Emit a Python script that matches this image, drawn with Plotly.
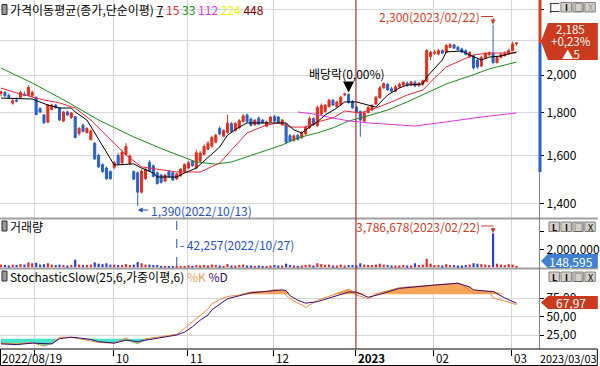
import math
import plotly.graph_objects as go

# ---------------- data ----------------
candle_idx = list(range(133))
opens = [1900,1905,1890,1850,1865,1880,1895,1890,1890,1880,
         1822,1790,1755,1818,1840,1825,1760,1805,1778,1782,
         1700,1740,1705,1672,1655,1600,1560,1545,1530,1548,
         1600,1568,1605,1565,1530,1525,1445,1500,1570,1555,
         1525,1515,1490,1530,1525,1500,1512,1530,1545,1575,
         1545,1575,1605,1628,1642,1660,1725,1688,1705,1748,
         1715,1728,1758,1790,1770,1742,1775,1765,1735,1758,
         1782,1780,1742,1745,1690,1668,1692,1680,1698,1728,
         1772,1738,1795,1808,1832,1865,1832,1842,1892,1895,
         1858,1830,1808,1760,1802,1815,1845,1878,1930,1948,
         1925,1912,1935,1945,1955,1945,1960,1942,1950,1965,
         2105,2125,2120,2140,2130,2160,2175,2160,2150,2140,
         2105,2110,2085,2050,2095,2115,2125,2070,2100,2110,
         2120,2140,2180]
highs = [1915,1912,1900,1870,1880,1915,1910,1945,1915,1885,
         1830,1795,1845,1848,1845,1830,1810,1812,1805,1785,
         1730,1748,1730,1720,1660,1608,1565,1552,1535,1575,
         1610,1622,1655,1605,1535,1530,1540,1550,1580,1560,
         1530,1520,1520,1535,1530,1525,1545,1565,1575,1580,
         1625,1620,1650,1665,1690,1700,1735,1720,1792,1755,
         1755,1770,1795,1798,1778,1768,1782,1770,1762,1785,
         1790,1785,1770,1750,1698,1695,1698,1712,1738,1782,
         1778,1838,1848,1845,1872,1872,1862,1888,1905,1900,
         1865,1838,1812,1808,1835,1845,1888,1940,1960,1955,
         1935,1945,1958,1965,1965,1968,1970,1960,1975,2150,
         2140,2145,2150,2148,2180,2185,2180,2168,2158,2148,
         2135,2118,2095,2110,2130,2135,2300,2110,2125,2135,
         2150,2195,2190]
lows = [1885,1880,1872,1842,1855,1875,1885,1885,1880,1788,
        1800,1745,1750,1812,1822,1760,1755,1785,1770,1678,
        1690,1705,1700,1668,1580,1545,1525,1495,1495,1540,
        1558,1562,1600,1558,1495,1390,1440,1495,1528,1505,
        1475,1480,1485,1505,1490,1495,1508,1525,1540,1550,
        1540,1570,1600,1622,1635,1655,1692,1685,1700,1705,
        1710,1722,1752,1752,1735,1738,1740,1748,1730,1755,
        1755,1748,1738,1650,1660,1662,1668,1675,1692,1722,
        1738,1732,1790,1802,1828,1835,1828,1838,1885,1848,
        1822,1800,1685,1752,1798,1810,1842,1872,1925,1915,
        1905,1908,1930,1940,1935,1940,1935,1935,1940,1960,
        2085,2115,2112,2120,2125,2155,2150,2140,2125,2112,
        2095,2030,2035,2045,2090,2110,2060,2065,2095,2105,
        2115,2135,2170]
closes = [1910,1888,1880,1862,1860,1905,1890,1932,1905,1792,
          1805,1752,1840,1840,1826,1765,1805,1790,1800,1682,
          1725,1710,1725,1712,1585,1550,1530,1500,1500,1568,
          1562,1615,1640,1598,1498,1445,1532,1540,1532,1510,
          1480,1485,1515,1508,1495,1520,1540,1560,1568,1555,
          1612,1610,1640,1655,1682,1692,1698,1715,1750,1710,
          1748,1762,1785,1758,1738,1765,1745,1752,1755,1780,
          1760,1752,1765,1660,1665,1690,1672,1705,1730,1772,
          1742,1828,1838,1840,1865,1840,1855,1880,1897,1852,
          1826,1805,1765,1800,1828,1838,1880,1930,1952,1920,
          1912,1935,1950,1960,1945,1962,1940,1955,1968,2140,
          2130,2130,2140,2125,2170,2175,2155,2145,2130,2118,
          2130,2040,2045,2100,2125,2128,2070,2100,2118,2125,
          2140,2180,2185]
volumes = [300000,250000,200000,300000,250000,350000,300000,550000,450000,500000,
           300000,350000,450000,300000,250000,300000,250000,200000,250000,850000,
           300000,250000,250000,300000,550000,400000,350000,450000,300000,300000,
           250000,250000,350000,250000,300000,600000,450000,300000,300000,250000,
           250000,150000,150000,120000,100000,42257,120000,150000,200000,150000,
           250000,200000,250000,200000,300000,250000,200000,150000,350000,200000,
           200000,250000,300000,200000,200000,150000,200000,150000,150000,200000,
           250000,200000,200000,400000,250000,200000,150000,200000,250000,300000,
           200000,450000,350000,250000,300000,200000,200000,300000,200000,250000,
           250000,200000,450000,300000,250000,250000,300000,400000,300000,250000,
           200000,200000,200000,250000,200000,200000,450000,250000,300000,950000,
           400000,250000,250000,200000,350000,250000,250000,200000,200000,250000,
           300000,450000,400000,350000,300000,250000,3786678,400000,300000,250000,
           350000,300000,148595]

ma7_idx = [0,8,12,15,18,19,22,24,27,29,34,36,39,40,45,47,50,53,56,58,61,63,69,73,75,77,79,81,83,86,
           88,91,94,96,99,102,104,108,109,113,114,118,120,123,125,128,132]
ma7 = [1876,1871,1840,1825,1825,1805,1765,1703,1611,1558,1563,1545,1524,1507,1507,1524,1545,1589,1638,1693,
       1731,1751,1751,1751,1717,1703,1731,1756,1790,1825,1856,1856,1840,1830,1892,1929,1945,1951,1989,2085,
       2132,2138,2114,2085,2102,2108,2132]
ma15_idx = [0,4,8,11,15,19,23,28,32,36,41,45,51,56,59,63,68,71,74,78,81,85,88,92,96,100,104,108,111,114,
            118,121,125,132]
ma15 = [1929,1903,1882,1866,1851,1825,1765,1670,1602,1550,1537,1528,1528,1567,1624,1703,1741,1751,1731,1731,
        1756,1775,1810,1800,1825,1856,1892,1918,1983,2045,2085,2114,2126,2126]
ma33_idx = [0,8,17,25,34,42,50,55,59,63,68,72,76,81,85,89,94,99,104,109,114,120,125,132]
ma33 = [2039,1956,1856,1765,1684,1624,1571,1562,1571,1593,1624,1647,1680,1703,1727,1760,1786,1815,1856,1903,
        1951,1994,2034,2073]
ma112_idx = [76,80,85,89,94,106,114,123,132]
ma112 = [1805,1795,1775,1761,1751,1736,1756,1780,1800]

stoch_idx = [0,4,8,11,13,15,18,20,23,25,29,32,35,37,40,42,45,47,49,51,53,54,56,58,61,64,68,70,72,73,
             74,76,77,78,81,85,89,91,94,97,102,110,117,120,121,125,126,129,132]
stoch_k = [14,13,15,10,14,22,22,20,18,15,14,21,13,20,22,24,26,34,43,52,60,67,73,77,79,83,84,86,85,79,
           74,68,66,62,72,79,87,79,74,82,89,92,95,86,81,84,75,71,66]
stoch_d = [13,12,14,13,13,20,22,21,19,16,14,18,16,18,21,23,25,29,36,45,52,59,66,74,78,82,84,85,86,85,
           78,72,70,68,70,77,83,83,76,80,88,92,95,90,86,84,84,75,68]

month_tick_idx = [9, 29, 48, 70, 91, 111, 131]
month_labels = ["", "10", "11", "12", "2023", "02", "03"]
first_date_label = "2022/08/19"
last_date_label = "2023/03/03"
price_ticks = [1400, 1600, 1800, 2000, 2200, 2400]
price_tick_text = ["1,400", "1,600", "1,800", "2,000", "", ""]
last_price_text = ["2,185", "+0,23%", "▲5"]
last_volume_text = "148,595"
last_stoch_text = "67,97"
low_idx, low_text = 35, "1,390(2022/10/13)"
high_idx, high_text = 126, "2,300(2023/02/22)"
minvol_idx, minvol_text = 45, "- 42,257(2022/10/27)"
maxvol_idx, maxvol_text = 126, "3,786,678(2023/02/22)"
exdiv_idx, exdiv_text = 89, "배당락(0,00%)"
year_line_idx = 90.9

# ---------------- geometry / style ----------------
FONT = "Noto Sans CJK KR"
PW, PH = 541.0, 349.0
X0, X1 = -0.255, 137.755
LOG_TOP, LOG_BOT = 3.39139, 3.12874
P_TOP, P_BOT = 0.0, 218.0
V_TOP, V_BOT = 219.0, 268.0
V_MIN, V_MAX = -78000, 5379000
S_TOP, S_BOT = 269.0, 349.0
S_MIN, S_MAX = 6.08, 114.19

C_UP, C_DN = "#E0301E", "#2A62C8"
V_UP, V_DN = "#E8262A", "#2B3FD6"
GRID = "#D6D6D6"
TXT_BLUE, TXT_RED = "#2850C8", "#D23C28"


def fx(px):
    return px / PW


def fy(py):
    return 1 - py / PH


def idx_px(i):
    return (i - X0) / (X1 - X0) * PW


def price_py(p):
    return P_TOP + (LOG_TOP - math.log10(p)) / (LOG_TOP - LOG_BOT) * (P_BOT - P_TOP)


def vol_py(v):
    return V_BOT - (v - V_MIN) / (V_MAX - V_MIN) * (V_BOT - V_TOP)


fig = go.Figure()

fig.add_trace(go.Candlestick(
    x=candle_idx, open=opens, high=highs, low=lows, close=closes,
    increasing=dict(line=dict(color=C_UP, width=1), fillcolor=C_UP),
    decreasing=dict(line=dict(color=C_DN, width=1), fillcolor=C_DN),
    whiskerwidth=0, xaxis="x", yaxis="y", hoverinfo="skip"))

for xs, ys, col in [(ma33_idx, ma33, "#1E8C1E"), (ma112_idx, ma112, "#E632E6"),
                    (ma15_idx, ma15, "#E8283C"), (ma7_idx, ma7, "#000000")]:
    fig.add_trace(go.Scatter(x=xs, y=ys, mode="lines", line=dict(color=col, width=1),
                             xaxis="x", yaxis="y", hoverinfo="skip"))

vcolors = [V_UP if c > o else V_DN for o, c in zip(opens, closes)]
fig.add_trace(go.Bar(x=candle_idx, y=volumes, marker=dict(color=vcolors, line=dict(width=0)),
                     width=0.55, xaxis="x2", yaxis="y2", hoverinfo="skip"))

hi_fill = [max(k, d, 80) for k, d in zip(stoch_k, stoch_d)]
lo_fill = [min(k, d, 20) for k, d in zip(stoch_k, stoch_d)]
n = len(stoch_idx)
fig.add_trace(go.Scatter(x=stoch_idx, y=[80] * n, mode="lines", line=dict(width=0),
                         xaxis="x3", yaxis="y3", hoverinfo="skip"))
fig.add_trace(go.Scatter(x=stoch_idx, y=hi_fill, mode="lines", line=dict(width=0), fill="tonexty",
                         fillcolor="#F5A55A", xaxis="x3", yaxis="y3", hoverinfo="skip"))
fig.add_trace(go.Scatter(x=stoch_idx, y=[20] * n, mode="lines", line=dict(width=0),
                         xaxis="x3", yaxis="y3", hoverinfo="skip"))
fig.add_trace(go.Scatter(x=stoch_idx, y=lo_fill, mode="lines", line=dict(width=0), fill="tonexty",
                         fillcolor="#48E6C8", xaxis="x3", yaxis="y3", hoverinfo="skip"))
fig.add_trace(go.Scatter(x=stoch_idx, y=stoch_k, mode="lines", line=dict(color="#F08A3C", width=1),
                         xaxis="x3", yaxis="y3", hoverinfo="skip"))
fig.add_trace(go.Scatter(x=stoch_idx, y=stoch_d, mode="lines", line=dict(color="#3C0A6E", width=1),
                         xaxis="x3", yaxis="y3", hoverinfo="skip"))

grid_vals = [i - 0.3 for i in month_tick_idx]
xcommon = dict(range=[X0, X1], showgrid=True, gridcolor=GRID, gridwidth=1, tickvals=grid_vals,
               zeroline=False, showline=False, fixedrange=True, showticklabels=False)

shapes = []
annotations = []


def add_text(text, xpx, ypx, color="black", size=12, xanchor="left", yanchor="middle"):
    annotations.append(dict(text=text, x=fx(xpx), y=fy(ypx), xref="paper", yref="paper",
                            xanchor=xanchor, yanchor=yanchor, showarrow=False,
                            font=dict(family=FONT, size=size, color=color), borderpad=0))


def add_arrow(tip_x, tip_y, ax, ay, color, width=1, head=2, size=1.0):
    annotations.append(dict(text="", x=fx(tip_x), y=fy(tip_y), xref="paper", yref="paper",
                            ax=ax, ay=ay, axref="pixel", ayref="pixel", showarrow=True,
                            arrowhead=head, arrowsize=size, arrowwidth=width, arrowcolor=color,
                            standoff=0))


def line_px(x0, y0, x1, y1, color, width=1, dash="solid"):
    shapes.append(dict(type="line", xref="paper", yref="paper", x0=fx(x0), y0=fy(y0), x1=fx(x1), y1=fy(y1),
                       line=dict(color=color, width=width, dash=dash), layer="above"))


def rect_px(x0, y0, x1, y1, fill, line=None, lw=1):
    shapes.append(dict(type="rect", xref="paper", yref="paper", x0=fx(x0), y0=fy(y0), x1=fx(x1), y1=fy(y1),
                       fillcolor=fill, line=dict(color=line or fill, width=lw if line else 0), layer="above"))


def tag_px(ytop, ybot, fill):
    ym = (ytop + ybot) / 2
    pts = [(543, ym), (550, ytop), (600, ytop), (600, ybot), (550, ybot)]
    path = "M " + " L ".join(f"{fx(a):.5f},{fy(b):.5f}" for a, b in pts) + " Z"
    shapes.append(dict(type="path", xref="paper", yref="paper", path=path, fillcolor=fill,
                       line=dict(width=0), layer="above"))


# panel separators
line_px(0, 218.5, 600, 218.5, "#A0A0A0", 2)
line_px(0, 268.5, 600, 268.5, "#A0A0A0", 2)
# right axis line and range bars
line_px(541.5, 0, 541.5, 349, "#808080", 1)
rect_px(540.5, 0, 543.5, 43, "#D2401E")
rect_px(540.5, 43, 543.5, 172, C_DN)
# bottom axis band
rect_px(0.5, 349, 599.5, 365.5, "rgba(0,0,0,0)", "black", 1)
# year boundary line
shapes.append(dict(type="line", xref="x", yref="paper", x0=year_line_idx, x1=year_line_idx, y0=0, y1=1,
                   line=dict(color="#B4141E", width=1), layer="above"))

# tags on right axis
tag_px(23, 60, "#CC3A1E")
tag_px(254, 268, "#3F7FD6")
tag_px(296, 309, "#CC3A1E")
for t, yy in zip(last_price_text, [29.5, 41.5, 53.5]):
    add_text(t, 573, yy, "white", 11.5, "center")
add_text(last_volume_text, 573, 261, "white", 12, "center")
add_text(last_stoch_text, 573, 302.5, "white", 12, "center")

# panel title icons + titles
for yc in [9.5, 226, 276]:
    rect_px(2, yc - 5, 7, yc + 5, "#9A9A9A", "#303030", 1)
add_text("가격이동평균(종가,단순이평) <u>7</u> <span style='color:#E8283C'>15</span> "
         "<span style='color:#1E8C1E'>33</span> <span style='color:#E632E6'>112</span> "
         "<span style='color:#F0F000'>224</span> <span style='color:#800000'>448</span>", 9, 9.5)
add_text("거래량", 9, 226)
add_text("StochasticSlow(25,6,가중이평,6) <span style='color:#F0A060'>%K</span> "
         "<span style='color:#3C0A6E'>%D</span>", 9, 276)


# window buttons
def button(x0, y0, ch, col="black"):
    rect_px(x0, y0, x0 + 10.5, y0 + 9.5, "#D4D0C8", "#808080", 1)
    add_text(ch, x0 + 5.25, y0 + 5, col, 9, "center")


add_text("匚", 557, 7.5, "black", 11, "center")
button(563, 2.5, "<b>I</b>")
button(575, 2.5, "□")
button(587, 2.5, "X", "#909090")
for yb in [222, 272]:
    button(551, yb, "<b>L</b>")
    button(563, yb, "<b>I</b>")
    button(575, yb, "□")
    button(587, yb, "X")

# x axis labels
LBL_Y = 358.0
add_text(first_date_label, 1.5, LBL_Y, size=11.5)
for i, lab in zip(month_tick_idx, month_labels):
    if lab:
        add_text("<b>" + lab + "</b>" if lab == "2023" else lab, idx_px(i - 0.3) + 1.5, LBL_Y, size=11.5)
add_text(last_date_label, 541.5, LBL_Y, size=10.8)

# low annotation
low_x = idx_px(low_idx)
add_arrow(low_x, 210, 12, 0, TXT_BLUE, 1, 2, 1)
add_text(low_text, low_x + 12, 210, TXT_BLUE)

# high annotation
hx = idx_px(high_idx)
hy = price_py(highs[high_idx])
line_px(483, 16.5, hx, 16.5, TXT_RED, 1)
add_arrow(hx, hy, 0, -(hy - 16.5), TXT_RED, 1, 2, 1)
add_text(high_text, 483, 16.5, TXT_RED, 12, "right")

# max volume annotation
vy = vol_py(volumes[maxvol_idx])
line_px(483, 226, hx, 226, TXT_RED, 1)
add_arrow(hx, vy, 0, -(vy - 226), TXT_RED, 1, 2, 1)
add_text(maxvol_text, 483, 226, TXT_RED, 12, "right")

# min volume annotation
mvx = idx_px(minvol_idx)
line_px(mvx, 221, mvx, 267, TXT_BLUE, 1, "dash")
add_text(minvol_text, mvx + 2, 244, TXT_BLUE)

# ex-dividend annotation
ex_x = idx_px(exdiv_idx)
add_arrow(ex_x, price_py(highs[exdiv_idx]) - 1, 0, -10, "black", 2.2, 2, 1)
add_text(exdiv_text, 309, 73)

fig.update_layout(
    width=600, height=366,
    margin=dict(l=0, r=59, t=0, b=17, pad=0),
    paper_bgcolor="white", plot_bgcolor="white",
    showlegend=False, hovermode=False,
    font=dict(family=FONT, size=12, color="black"),
    boxgap=0.25, boxgroupgap=0.3,
    xaxis=dict(**xcommon, anchor="y", ticks="", rangeslider=dict(visible=False)),
    xaxis2=dict(**xcommon, anchor="y2", matches="x", ticks=""),
    xaxis3=dict(**xcommon, anchor="y3", matches="x", ticks="outside", ticklen=6,
                tickcolor="black", tickwidth=1),
    yaxis=dict(domain=[fy(P_BOT), fy(P_TOP)], type="log", range=[LOG_BOT, LOG_TOP], side="right",
               anchor="x", tickvals=price_ticks, ticktext=price_tick_text, ticks="outside", ticklen=4,
               tickcolor="black", showgrid=True, gridcolor=GRID, zeroline=False, fixedrange=True,
               tickfont=dict(family=FONT, size=12, color="black")),
    yaxis2=dict(domain=[fy(V_BOT), fy(V_TOP)], range=[V_MIN, V_MAX], side="right", anchor="x2",
                tickvals=[2000000, 4000000], ticktext=["2,000,000", ""], ticks="outside", ticklen=4,
                tickcolor="black", showgrid=False, zeroline=False, fixedrange=True,
                tickfont=dict(family=FONT, size=12, color="black")),
    yaxis3=dict(domain=[fy(S_BOT), fy(S_TOP)], range=[S_MIN, S_MAX], side="right", anchor="x3",
                tickvals=[25, 50, 75], ticktext=["25,00", "50,00", "75,00"], ticks="outside", ticklen=4,
                tickcolor="black", showgrid=True, gridcolor=GRID, zeroline=False, fixedrange=True,
                tickfont=dict(family=FONT, size=12, color="black")),
    shapes=shapes,
    annotations=annotations,
)

fig.write_html("out.html", config={"displayModeBar": False},
               post_script="document.body.style.margin='0px';document.body.style.padding='0px';"
                           "document.body.style.overflow='hidden';")
